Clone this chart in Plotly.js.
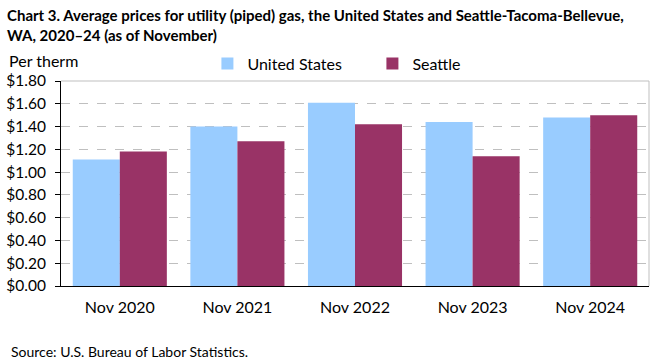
<!DOCTYPE html>
<html>
<head>
<meta charset="utf-8">
<script src="https://cdn.plot.ly/plotly-3.0.1.min.js"></script>
<style>html,body{margin:0;padding:0;background:#fff;}#chart{width:661px;height:361px;}</style>
</head>
<body>
<div id="chart"></div>
<script>
const categories = ["Nov 2020", "Nov 2021", "Nov 2022", "Nov 2023", "Nov 2024"];
const usValues = [1.11, 1.40, 1.61, 1.44, 1.48];
const seattleValues = [1.18, 1.27, 1.42, 1.14, 1.50];
const seriesNames = ["United States", "Seattle"];
const yTickValues = [0, 0.2, 0.4, 0.6, 0.8, 1.0, 1.2, 1.4, 1.6, 1.8];

const FONT = "Lato, 'Open Sans', sans-serif";

const traces = [
  {type: "bar", name: seriesNames[0], x: categories, y: usValues,
   marker: {color: "#99CCFF"}, hoverinfo: "skip"},
  {type: "bar", name: seriesNames[1], x: categories, y: seattleValues,
   marker: {color: "#993366"}, hoverinfo: "skip"}
];

const layout = {
  width: 661, height: 361,
  margin: {l: 61, r: 12, t: 81, b: 75},
  paper_bgcolor: "#fff", plot_bgcolor: "#fff",
  font: {family: FONT, size: 16, color: "#000"},
  barmode: "group", bargap: 0.2, bargroupgap: 0,
  xaxis: {
    type: "category",
    showline: true, linecolor: "#000", linewidth: 1,
    ticks: "", showgrid: false,
    tickfont: {family: FONT, size: 16, color: "#000"},
    ticklabelstandoff: 7
  },
  yaxis: {
    range: [0, 1.8], tickvals: yTickValues, tickformat: "$.2f",
    showline: true, linecolor: "#000", linewidth: 1,
    ticks: "outside", ticklen: 5, tickcolor: "#000",
    showgrid: true, gridcolor: "#BFBFBF", griddash: "dash", gridwidth: 1,
    zeroline: false,
    tickfont: {family: FONT, size: 15.5, color: "#000"},
    ticklabelstandoff: 6
  },
  legend: {
    orientation: "h", x: 0.249, xanchor: "left", y: 1.085, yanchor: "middle",
    font: {family: FONT, size: 16, color: "#000"},
    entrywidth: 120, bgcolor: "rgba(0,0,0,0)"
  },
  shapes: [
    {type: "line", xref: "paper", yref: "paper", x0: 0, x1: 1, y0: 1, y1: 1,
     line: {color: "#BFBFBF", width: 1}},
    {type: "line", xref: "paper", yref: "paper", x0: 1, x1: 1, y0: 0, y1: 1,
     line: {color: "#BFBFBF", width: 1}}
  ],
  annotations: [
    {text: "<b>Chart 3. Average prices for utility (piped) gas, the United States and Seattle-Tacoma-Bellevue,<br>WA, 2020–24 (as of November)</b>",
     xref: "paper", yref: "paper", x: -0.095, y: 1.375, xanchor: "left", yanchor: "top",
     align: "left", showarrow: false,
     font: {family: FONT, size: 15, color: "#000"}},
    {text: "Per therm", xref: "paper", yref: "paper", x: -0.092, y: 1.1,
     xanchor: "left", yanchor: "middle", showarrow: false,
     font: {family: FONT, size: 16, color: "#000"}},
    {text: "Source: U.S. Bureau of Labor Statistics.", xref: "paper", yref: "paper",
     x: -0.088, y: -0.32, xanchor: "left", yanchor: "middle", showarrow: false,
     font: {family: FONT, size: 14, color: "#000"}}
  ]
};

Plotly.newPlot("chart", traces, layout, {displayModeBar: false, staticPlot: true});
</script>
</body>
</html>
